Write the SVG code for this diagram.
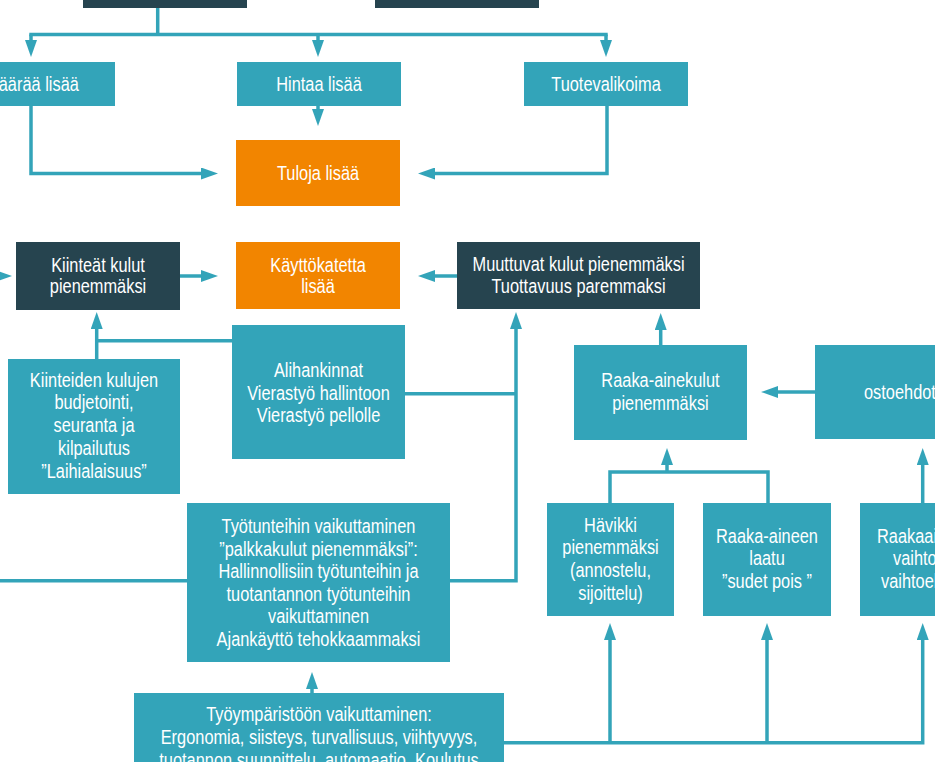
<svg xmlns="http://www.w3.org/2000/svg" width="935" height="762" viewBox="0 0 935 762">
<defs>
<style>
.t{fill:#33a4b9}
.d{fill:#26444f}
.o{fill:#f28500}
text{font-family:"Liberation Sans",Arial,sans-serif;font-size:19.5px;fill:#ffffff;text-anchor:middle}
.s text{text-anchor:start}
.c path{fill:none;stroke:#33a4b9;stroke-width:3.5}
</style>
<marker id="a" markerUnits="userSpaceOnUse" markerWidth="18" markerHeight="12" refX="1" refY="6" orient="auto" viewBox="0 0 18 12">
<path d="M0,0 L17,6 L0,12 z" fill="#33a4b9"/>
</marker>
</defs>
<rect width="935" height="762" fill="#ffffff"/>
<g class="c">
<path d="M157.7,8 V34.5"/>
<path d="M29.3,34.5 H607.7"/>
<path d="M31,34.5 V41" marker-end="url(#a)"/>
<path d="M318,34.5 V41" marker-end="url(#a)"/>
<path d="M606,34.5 V41" marker-end="url(#a)"/>
<path d="M31,106 V173.5 H202" marker-end="url(#a)"/>
<path d="M607,106 V173.5 H434" marker-end="url(#a)"/>
<path d="M318,106 V110" marker-end="url(#a)"/>
<path d="M-20,276 H-4" marker-end="url(#a)"/>
<path d="M180,276 H202" marker-end="url(#a)"/>
<path d="M457,276 H434" marker-end="url(#a)"/>
<path d="M96.7,359 V328" marker-end="url(#a)"/>
<path d="M96.7,340.7 H232"/>
<path d="M405,393.7 H516"/>
<path d="M450,580.7 H516 V328" marker-end="url(#a)"/>
<path d="M0,580.7 H187"/>
<path d="M312,693 V688" marker-end="url(#a)"/>
<path d="M504,742.7 H922.7 V639" marker-end="url(#a)"/>
<path d="M610,742.7 V639" marker-end="url(#a)"/>
<path d="M767,742.7 V639" marker-end="url(#a)"/>
<path d="M660.7,345 V329" marker-end="url(#a)"/>
<path d="M815,392 H777" marker-end="url(#a)"/>
<path d="M610,503 V472 H768 V503"/>
<path d="M667,472 V464" marker-end="url(#a)"/>
<path d="M922.7,503 V464" marker-end="url(#a)"/>
</g>
<g id="top1"><rect class="d" x="83" y="-50" width="164" height="58"/></g>
<g id="top2"><rect class="d" x="375" y="-50" width="164" height="58"/></g>
<g id="maaraa"><rect class="t" x="-60" y="62" width="175" height="44"/><g transform="translate(32 0) scale(0.84 1)"><text x="0" y="91">Määrää lisää</text></g></g>
<g id="hintaa"><rect class="t" x="237" y="62" width="164" height="44"/><g transform="translate(319 0) scale(0.84 1)"><text x="0" y="91">Hintaa lisää</text></g></g>
<g id="tuotevalikoima"><rect class="t" x="524" y="62" width="164" height="44"/><g transform="translate(606 0) scale(0.84 1)"><text x="0" y="91">Tuotevalikoima</text></g></g>
<g id="tuloja"><rect class="o" x="236" y="140" width="164" height="66"/><g transform="translate(318 0) scale(0.84 1)"><text x="0" y="180">Tuloja lisää</text></g></g>
<g id="kiinteat"><rect class="d" x="16" y="242" width="164" height="68"/><g transform="translate(98 0) scale(0.84 1)"><text x="0" y="272">Kiinteät kulut</text><text x="0" y="293">pienemmäksi</text></g></g>
<g id="kayttokate"><rect class="o" x="236" y="242" width="164" height="67"/><g transform="translate(318 0) scale(0.84 1)"><text x="0" y="272">Käyttökatetta</text><text x="0" y="293">lisää</text></g></g>
<g id="muuttuvat"><rect class="d" x="457" y="242" width="243" height="67"/><g transform="translate(578.5 0) scale(0.84 1)"><text x="0" y="271">Muuttuvat kulut pienemmäksi</text><text x="0" y="293">Tuottavuus paremmaksi</text></g></g>
<g id="kiinteiden"><rect class="t" x="8" y="359" width="172" height="135"/><g transform="translate(94 0) scale(0.84 1)"><text x="0" y="387">Kiinteiden kulujen</text><text x="0" y="409">budjetointi,</text><text x="0" y="432">seuranta ja</text><text x="0" y="455">kilpailutus</text><text x="0" y="478">”Laihialaisuus”</text></g></g>
<g id="alihankinnat"><rect class="t" x="232" y="325" width="173" height="134"/><g transform="translate(318.5 0) scale(0.84 1)"><text x="0" y="377">Alihankinnat</text><text x="0" y="400">Vierastyö hallintoon</text><text x="0" y="422">Vierastyö pellolle</text></g></g>
<g id="raaka-ainekulut"><rect class="t" x="574" y="345" width="173" height="95"/><g transform="translate(660.5 0) scale(0.84 1)"><text x="0" y="387">Raaka-ainekulut</text><text x="0" y="410">pienemmäksi</text></g></g>
<g id="ostoehdot"><rect class="t" x="815" y="345" width="160" height="94"/><g class="s" transform="translate(864 0) scale(0.84 1)"><text x="0" y="399">ostoehdot</text></g></g>
<g id="tyotunteihin"><rect class="t" x="187" y="503" width="263" height="159"/><g transform="translate(318.5 0) scale(0.84 1)"><text x="0" y="533">Työtunteihin vaikuttaminen</text><text x="0" y="556">”palkkakulut pienemmäksi”:</text><text x="0" y="578">Hallinnollisiin työtunteihin ja</text><text x="0" y="601">tuotantannon työtunteihin</text><text x="0" y="623">vaikuttaminen</text><text x="0" y="646">Ajankäyttö tehokkaammaksi</text></g></g>
<g id="havikki"><rect class="t" x="547" y="503" width="127" height="113"/><g transform="translate(610.5 0) scale(0.84 1)"><text x="0" y="532">Hävikki</text><text x="0" y="554">pienemmäksi</text><text x="0" y="577">(annostelu,</text><text x="0" y="600">sijoittelu)</text></g></g>
<g id="laatu"><rect class="t" x="703" y="503" width="128" height="113"/><g transform="translate(767 0) scale(0.84 1)"><text x="0" y="543">Raaka-aineen</text><text x="0" y="565">laatu</text><text x="0" y="588">”sudet pois ”</text></g></g>
<g id="raakaaineen-vaihto"><rect class="t" x="860" y="503" width="128" height="113"/><g class="s" transform="translate(877 0) scale(0.84 1)"><text x="0" y="543">Raakaaineen</text></g><g class="s" transform="translate(893 0) scale(0.84 1)"><text x="0" y="565">vaihtoon</text></g><g class="s" transform="translate(881 0) scale(0.84 1)"><text x="0" y="588">vaihtoehdot</text></g></g>
<g id="tyoymparisto"><rect class="t" x="134" y="693" width="370" height="100"/><g transform="translate(319 0) scale(0.84 1)"><text x="0" y="721">Työympäristöön vaikuttaminen:</text><text x="0" y="744">Ergonomia, siisteys, turvallisuus, viihtyvyys,</text><text x="0" y="767">tuotannon suunnittelu, automaatio, Koulutus</text></g></g>
</svg>
